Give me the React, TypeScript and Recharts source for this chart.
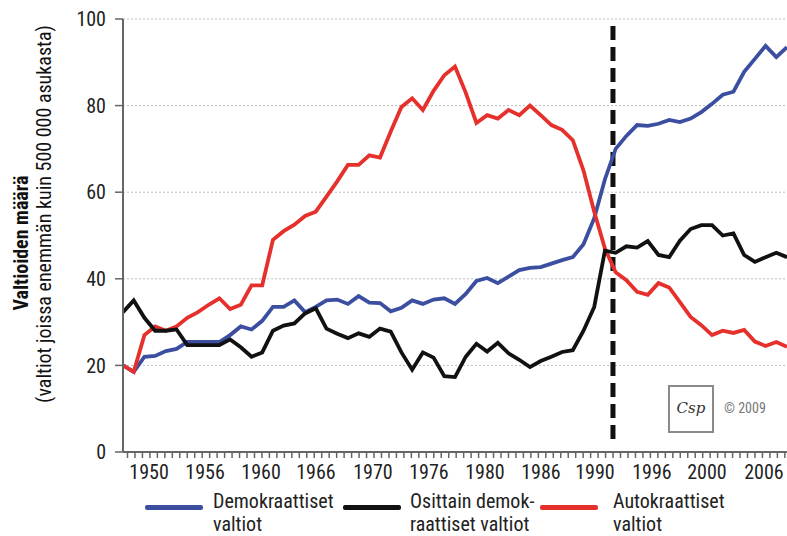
import { LineChart, Line, XAxis, YAxis, CartesianGrid, ReferenceLine } from 'recharts';

const FONT = "'Liberation Sans Narrow', 'Roboto Condensed', 'DejaVu Sans Condensed', sans-serif";

// vuodet 1946-2008
const years = [
  1946, 1947, 1948, 1949, 1950, 1951, 1952, 1953, 1954, 1955,
  1956, 1957, 1958, 1959, 1960, 1961, 1962, 1963, 1964, 1965,
  1966, 1967, 1968, 1969, 1970, 1971, 1972, 1973, 1974, 1975,
  1976, 1977, 1978, 1979, 1980, 1981, 1982, 1983, 1984, 1985,
  1986, 1987, 1988, 1989, 1990, 1991, 1992, 1993, 1994, 1995,
  1996, 1997, 1998, 1999, 2000, 2001, 2002, 2003, 2004, 2005,
  2006, 2007, 2008,
];

const democratic = [
  20, 18.5, 22, 22.2, 23.3, 23.8, 25.4, 25.4, 25.4, 25.4,
  27, 29, 28.3, 30.3, 33.5, 33.5, 35, 32.3, 33.5, 35,
  35.2, 34.2, 36, 34.5, 34.4, 32.5, 33.3, 35, 34.2, 35.2,
  35.5, 34.2, 36.5, 39.5, 40.2, 39, 40.5, 42, 42.5, 42.7,
  43.5, 44.3, 45, 48, 54, 63, 70, 73, 75.5, 75.3,
  75.8, 76.7, 76.2, 77, 78.5, 80.4, 82.5, 83.2, 87.8, 90.8,
  93.8, 91.2, 93.5,
];

const partial = [
  32.3, 35, 31, 28, 28, 28.3, 24.7, 24.7, 24.7, 24.7,
  26, 24.2, 22, 23, 28, 29.2, 29.7, 32, 33.2, 28.5,
  27.3, 26.3, 27.4, 26.6, 28.5, 27.8, 23, 19, 23, 21.8,
  17.5, 17.3, 22, 25, 23.2, 25.2, 22.8, 21.3, 19.6, 21,
  22, 23.1, 23.5, 28, 33.5, 46.5, 46, 47.5, 47.2, 48.7,
  45.5, 45, 48.8, 51.5, 52.4, 52.4, 50, 50.5, 45.5, 43.9,
  45, 46, 45,
];

const autocratic = [
  20, 18.5, 27, 29, 28, 29, 31, 32.3, 34, 35.5,
  33, 34, 38.5, 38.5, 49, 51, 52.5, 54.5, 55.5, 59,
  62.5, 66.3, 66.3, 68.5, 68, 74, 79.7, 81.7, 79, 83.4,
  87, 89, 83, 76, 77.8, 77, 79, 77.8, 80, 77.8,
  75.5, 74.4, 72, 65, 55.5, 47, 41.5, 39.7, 37, 36.3,
  39, 38, 34.6, 31.2, 29.3, 27, 28, 27.5, 28.2, 25.5,
  24.5, 25.4, 24.3,
];

// x-akselin nimiöt sellaisina kuin ne kuvassa ovat, ja kohdat joihin ne osuvat
const xLabels = ['1950', '1956', '1960', '1966', '1970', '1976', '1980', '1986', '1990', '1996', '2000', '2006'];
const xLabelAt = [1948.43, 1953.66, 1958.89, 1964.02, 1969.34, 1974.57, 1979.8, 1985.03, 1990.07, 1995.39, 2000.53, 2005.85];
const yTicks = [0, 20, 40, 60, 80, 100];
const dividerYear = 1991.75;

const series = [
  { key: 'dem', color: '#3b4ea0' },
  { key: 'aut', color: '#e5302c' },
  { key: 'par', color: '#111111' },
];

const data = years.map((year, i) => ({
  year,
  dem: democratic[i],
  par: partial[i],
  aut: autocratic[i],
}));

// pienet väliviivat akselilla
const minorTicks = Array.from({ length: 89 }, (_, k) => 1946.42 + k * 0.6975);

const legendItems = [
  { color: '#3b4ea0', lines: ['Demokraattiset', 'valtiot'], swatch: 145, text: 213 },
  { color: '#111111', lines: ['Osittain demok-', 'raattiset valtiot'], swatch: 343, text: 410 },
  { color: '#e5302c', lines: ['Autokraattiset', 'valtiot'], swatch: 540, text: 613 },
];

const MinorTick = (props: any) => {
  const { x, y } = props;
  return <line x1={x} x2={x} y1={y - 7} y2={y} stroke="#666" strokeWidth={1.5} />;
};

const App = () => {
  return (
    <div style={{ position: 'absolute', left: 0, top: 0, width: 787, height: 536, background: '#fff', fontFamily: FONT, overflow: 'hidden' }}>
      <LineChart width={787} height={536} data={data} margin={{ top: 19, right: 0, bottom: 46, left: 60 }}>
        <CartesianGrid vertical={false} stroke="#bdbdbd" strokeDasharray="2 2" />
        <XAxis
          dataKey="year"
          type="number"
          domain={[1946, 2008]}
          allowDataOverflow
          ticks={minorTicks}
          interval={0}
          tick={<MinorTick />}
          tickLine={false}
          tickSize={6}
          tickMargin={0}
          height={8}
          axisLine={{ stroke: '#666', strokeWidth: 2 }}
        />
        <XAxis
          xAxisId="lab"
          dataKey="year"
          type="number"
          domain={[1946, 2008]}
          allowDataOverflow
          ticks={xLabelAt}
          interval={0}
          tickFormatter={(v: number) => xLabels[xLabelAt.indexOf(v)]}
          axisLine={false}
          tickLine={false}
          tickSize={0}
          tickMargin={5}
          height={30}
          tick={{ fill: '#222', fontSize: 20, fontFamily: FONT }}
        />
        <YAxis
          type="number"
          domain={[0, 100]}
          ticks={yTicks}
          width={63}
          tickSize={8}
          tickMargin={9}
          axisLine={{ stroke: '#666', strokeWidth: 2 }}
          tickLine={{ stroke: '#666', strokeWidth: 1.5 }}
          tick={{ fill: '#222', fontSize: 20, fontFamily: FONT }}
        />
        <ReferenceLine
          segment={[{ x: dividerYear, y: 3 }, { x: dividerYear, y: 100 }]}
          stroke="#111"
          strokeWidth={5}
          strokeDasharray="14 7"
        />
        {series.map((s) => (
          <Line
            key={s.key}
            dataKey={s.key}
            stroke={s.color}
            strokeWidth={3.8}
            dot={false}
            type="linear"
            isAnimationActive={false}
          />
        ))}
      </LineChart>

      <svg width={70} height={536} style={{ position: 'absolute', left: 0, top: 0 }}>
        <text transform="translate(28,243) rotate(-90)" textAnchor="middle" fontFamily={FONT} fontSize={20} fontWeight="bold" fill="#111">
          Valtioiden määrä
        </text>
        <text transform="translate(51,214) rotate(-90)" textAnchor="middle" fontFamily={FONT} fontSize={20} fill="#111">
          (valtiot joissa enemmän kuin 500 000 asukasta)
        </text>
      </svg>

      {legendItems.map((it) => (
        <div key={it.text}>
          <div style={{ position: 'absolute', left: it.swatch, top: 505, width: 58, height: 5, borderRadius: 2, background: it.color }} />
          <div style={{ position: 'absolute', left: it.text, top: 490, fontSize: 20, lineHeight: '23px', color: '#222', whiteSpace: 'nowrap' }}>
            {it.lines[0]}
            <br />
            {it.lines[1]}
          </div>
        </div>
      ))}

      <div style={{ position: 'absolute', left: 668, top: 385, width: 42, height: 44, border: '2px solid #8a8a8a', fontFamily: 'DejaVu Serif, serif', fontStyle: 'italic', fontSize: 15, color: '#333', textAlign: 'center', lineHeight: '42px' }}>
        Csp
      </div>
      <div style={{ position: 'absolute', left: 724, top: 400, fontSize: 14, color: '#777', whiteSpace: 'nowrap' }}>
        © 2009
      </div>
    </div>
  );
};

export default App;
